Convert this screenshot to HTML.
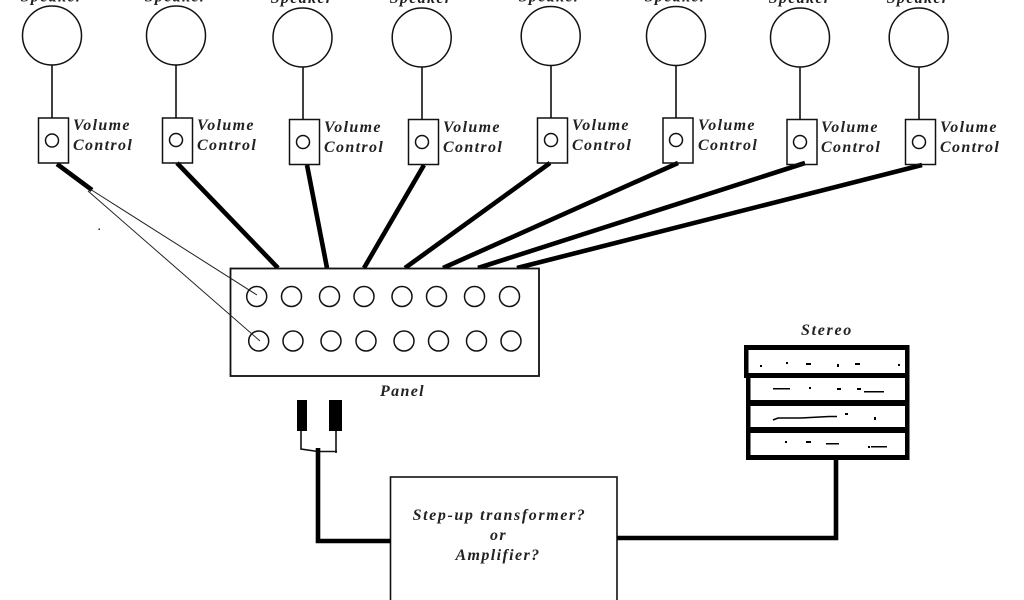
<!DOCTYPE html>
<html><head><meta charset="utf-8"><style>
html,body{margin:0;padding:0;background:#fff;width:1024px;height:600px;overflow:hidden}
svg{display:block}
text{font-family:"Liberation Serif",serif;font-weight:bold;font-style:italic;font-size:16px;fill:#222;letter-spacing:1.35px}
.c{fill:none;stroke:#111;stroke-width:1.5}
.l{stroke:#111;stroke-width:1.6;fill:none}
.t{stroke:#000;stroke-width:4.6;fill:none}
.h{stroke:#222;stroke-width:1;fill:none}
</style></head><body>
<svg width="1024" height="600" viewBox="0 0 1024 600" xmlns="http://www.w3.org/2000/svg">
<rect width="1024" height="600" fill="#fff"/>
<!-- thick wires -->
<path class="t" d="M57 164L92 190M177 163L278 268M307 165L327 268M424 165L364 268M550 163L405 268M678 163L443 268M805 163L478 268M922 165L517 268"/>
<!-- speakers -->
<g class="c">
<circle cx="52" cy="35.5" r="29.5"/><circle cx="176" cy="35.5" r="29.5"/><circle cx="302.5" cy="37.5" r="29.5"/><circle cx="421.7" cy="37.5" r="29.5"/><circle cx="550.7" cy="36" r="29.5"/><circle cx="676" cy="36" r="29.5"/><circle cx="800" cy="37.5" r="29.5"/><circle cx="918.7" cy="37.5" r="29.5"/>
</g>
<path class="l" d="M52 65V118M176 65V118M303 67V120M422 67V120M551 66V118M676 66V118M800 67V120M919 67V120"/>
<!-- volume boxes -->
<g class="c" fill="#fff">
<rect x="38.5" y="118" width="30" height="45"/><rect x="162.5" y="118" width="30" height="45"/><rect x="289.5" y="119.5" width="30" height="45"/><rect x="408.5" y="119.5" width="30" height="45"/><rect x="537.5" y="118" width="30" height="45"/><rect x="663" y="118" width="30" height="45"/><rect x="787" y="119.5" width="30" height="45"/><rect x="905.5" y="119.5" width="30" height="45"/>
<circle cx="52" cy="140.5" r="6.5"/><circle cx="176" cy="140" r="6.5"/><circle cx="303" cy="142" r="6.5"/><circle cx="422" cy="142" r="6.5"/><circle cx="551" cy="140" r="6.5"/><circle cx="676" cy="140" r="6.5"/><circle cx="800" cy="142" r="6.5"/><circle cx="919" cy="142" r="6.5"/>
</g>
<!-- speaker labels -->
<g text-anchor="middle">
<text x="52" y="1.5">Speaker</text><text x="176" y="1.5">Speaker</text><text x="302" y="3">Speaker</text><text x="421" y="3">Speaker</text><text x="550" y="1.5">Speaker</text><text x="676" y="1.5">Speaker</text><text x="800" y="3">Speaker</text><text x="918" y="3">Speaker</text>
</g>
<!-- volume labels -->
<g>
<text x="73" y="130">Volume</text><text x="73" y="150">Control</text>
<text x="197" y="130">Volume</text><text x="197" y="150">Control</text>
<text x="324" y="132">Volume</text><text x="324" y="152">Control</text>
<text x="443" y="132">Volume</text><text x="443" y="152">Control</text>
<text x="572" y="130">Volume</text><text x="572" y="150">Control</text>
<text x="698" y="130">Volume</text><text x="698" y="150">Control</text>
<text x="821" y="132">Volume</text><text x="821" y="152">Control</text>
<text x="940" y="132">Volume</text><text x="940" y="152">Control</text>
</g>
<!-- panel -->
<rect x="230.5" y="268.5" width="308.5" height="107.5" fill="#fff" stroke="#111" stroke-width="1.8"/>
<g class="c">
<circle cx="256.7" cy="296.5" r="10"/><circle cx="291.5" cy="296.5" r="10"/><circle cx="329.5" cy="296.5" r="10"/><circle cx="364" cy="296.5" r="10"/><circle cx="402" cy="296.5" r="10"/><circle cx="436.5" cy="296.5" r="10"/><circle cx="474.5" cy="296.5" r="10"/><circle cx="509.5" cy="296.5" r="10"/>
<circle cx="258.7" cy="341" r="10"/><circle cx="293" cy="341" r="10"/><circle cx="331" cy="341" r="10"/><circle cx="366" cy="341" r="10"/><circle cx="404" cy="341" r="10"/><circle cx="438.5" cy="341" r="10"/><circle cx="476.5" cy="341" r="10"/><circle cx="511" cy="341" r="10"/>
</g>
<path class="h" d="M90 189L257 295M88 191L260 341"/>
<rect x="98.5" y="228.5" width="1.5" height="1.5" fill="#222"/>
<text x="380" y="396">Panel</text>
<!-- plugs -->
<rect x="297" y="400" width="10" height="31" fill="#000"/>
<rect x="329" y="400" width="13" height="31" fill="#000"/>
<path class="l" d="M301 431V449L318 451.5H337M336 431V453"/>
<!-- amp -->
<rect x="390.5" y="477" width="226.5" height="130" fill="#fff" stroke="#111" stroke-width="1.6"/>
<path class="t" d="M318 448V541H391M617 538H836V458" stroke-width="4"/>
<g text-anchor="middle">
<text x="499.5" y="520" style="letter-spacing:1.6px">Step-up transformer?</text>
<text x="498.5" y="540">or</text>
<text x="498" y="560" style="letter-spacing:1.4px">Amplifier?</text>
</g>
<!-- stereo -->
<text x="801" y="335" style="letter-spacing:1.7px">Stereo</text>
<g fill="#000">
<rect x="744" y="345" width="165" height="5"/>
<rect x="744" y="345" width="4.5" height="33"/>
<rect x="746" y="373" width="4.5" height="87"/>
<rect x="905" y="345" width="4.5" height="115"/>
<rect x="746" y="373" width="163" height="5"/>
<rect x="746" y="400" width="163" height="6"/>
<rect x="746" y="427" width="163" height="6"/>
<rect x="746" y="455" width="163" height="5"/>
<!-- specks -->
<rect x="760" y="365" width="2" height="2"/><rect x="786" y="362" width="2" height="2"/><rect x="806" y="363" width="5" height="2"/><rect x="837" y="364" width="2" height="3"/><rect x="855" y="363" width="5" height="2"/><rect x="898" y="364" width="2" height="2"/>
<rect x="773" y="388" width="17" height="1.5"/><rect x="809" y="387" width="2" height="2"/><rect x="837" y="388" width="4" height="2"/><rect x="857" y="388" width="4" height="2"/><rect x="864" y="391" width="20" height="1.5"/>
<rect x="845" y="413" width="3" height="2"/><rect x="874" y="417" width="2" height="3"/>
<rect x="785" y="441" width="2" height="2"/><rect x="806" y="441" width="5" height="2"/><rect x="826" y="443" width="13" height="1.5"/><rect x="868" y="446" width="2" height="2"/><rect x="871" y="446" width="16" height="1.5"/>
</g>
<path stroke="#000" stroke-width="1.5" fill="none" d="M773 420L778 418H801L829 416.5H837"/>
</svg>
</body></html>
